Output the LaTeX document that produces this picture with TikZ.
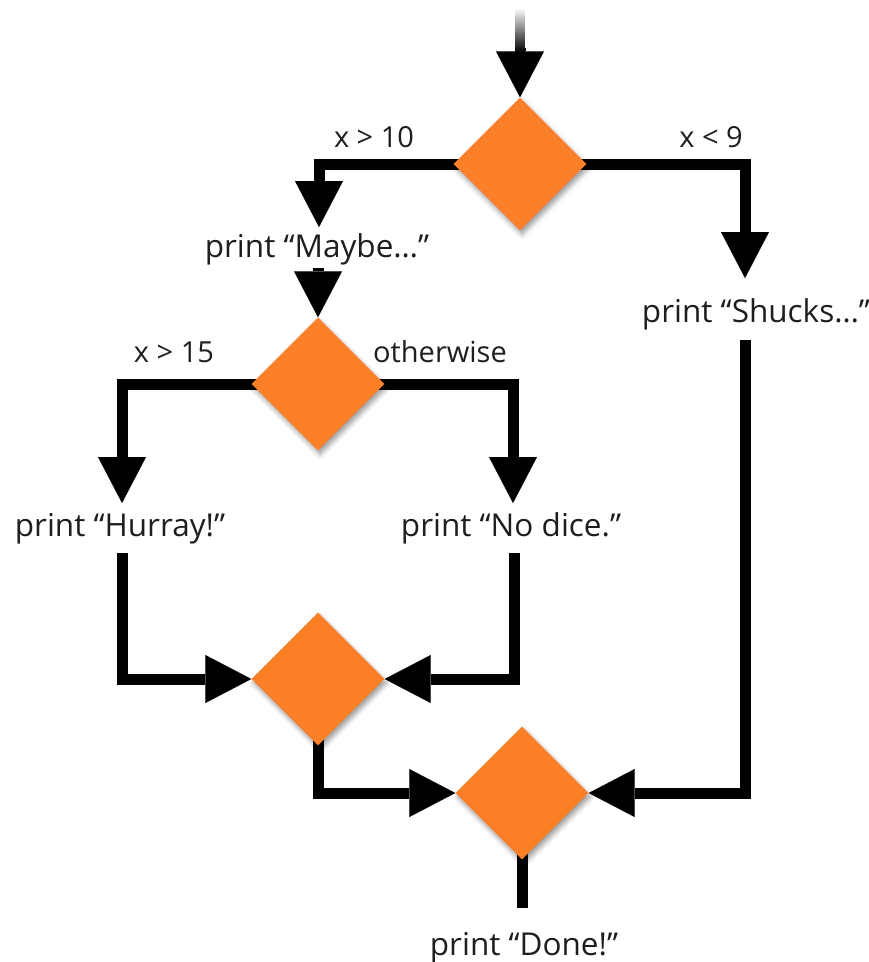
\documentclass[tikz,border=0pt]{standalone}
\usepackage{fontspec}
\setmainfont{Open Sans}
\usetikzlibrary{arrows.meta,shapes.geometric,shadows.blur}
\definecolor{decisionorange}{RGB}{250,127,38}
\definecolor{ink}{RGB}{30,30,30}
\pgfdeclarelayer{wires}
\pgfsetlayers{wires,main}
\begin{document}
\begin{tikzpicture}[x=1pt,y=-1pt,
  decision/.style={shape=diamond, fill=decisionorange, draw=none, inner sep=0pt,
    minimum width=133pt, minimum height=133pt,
    blur shadow={shadow xshift=2pt, shadow yshift=-4pt, shadow blur radius=5pt, shadow opacity=40}},
  wire/.style={line width=11pt, line join=miter, draw=black},
  flow/.style={wire, -{Triangle[length=46pt,width=48pt,line width=0.1pt]}},
  stmt/.style={anchor=base, inner sep=0pt, font=\fontsize{31.5}{38}\selectfont, text=ink},
  cond/.style={anchor=base, inner sep=0pt, font=\fontsize{29}{35}\selectfont, text=ink}]
\useasboundingbox (0,0) rectangle (869,962);

% decisions
\node[decision] (d1) at (520,164) {};
\node[decision] (d2) at (318,384) {};
\node[decision] (d3) at (318,679) {};
\node[decision] (d4) at (522,793) {};

% statements
\node[stmt] (maybe)  at (317,257) {print “Maybe…”};
\node[stmt] (hurray) at (120,536) {print “Hurray!”};
\node[stmt] (nodice) at (511,536) {print “No dice.”};
\node[stmt] (shucks) at (756,322) {print “Shucks…”};
\node[stmt] (done)   at (524,955) {print “Done!”};

% branch conditions
\node[cond] (c1) at (374,147) {x > 10};
\node[cond] (c2) at (711,147) {x < 9};
\node[cond] (c3) at (174,362) {x > 15};
\node[cond] (c4) at (440,362) {otherwise};

% connector end points
\coordinate (entry)    at (520,48);
\coordinate (maybeIn)  at (319,227);
\coordinate (maybeOut) at (318,268);
\coordinate (shuckIn)  at (745,278);
\coordinate (shuckOut) at (745,340);
\coordinate (hurIn)    at (122,503);
\coordinate (hurOut)   at (122,553);
\coordinate (diceIn)   at (513,503);
\coordinate (diceOut)  at (514,553);
\coordinate (doneIn)   at (522,908);

% fading entry stub
\shade[top color=white, bottom color=black] (515.5,8) rectangle (524.5,52);

\begin{pgfonlayer}{wires}
\draw[flow] (entry) -- (d1.north);
\draw[flow] (d1.center) -| (maybeIn);
\draw[flow] (d1.center) -| (shuckIn);
\draw[flow] (maybeOut) -- (d2.north);
\draw[flow] (d2.center) -| (hurIn);
\draw[flow] (d2.center) -| (diceIn);
\draw[flow] (hurOut) |- (d3.west);
\draw[flow] (diceOut) |- (d3.east);
\draw[flow] (d3.center) |- (d4.west);
\draw[flow] (shuckOut) |- (d4.east);
\draw[wire] (d4.center) -- (doneIn);
\end{pgfonlayer}
\end{tikzpicture}
\end{document}
